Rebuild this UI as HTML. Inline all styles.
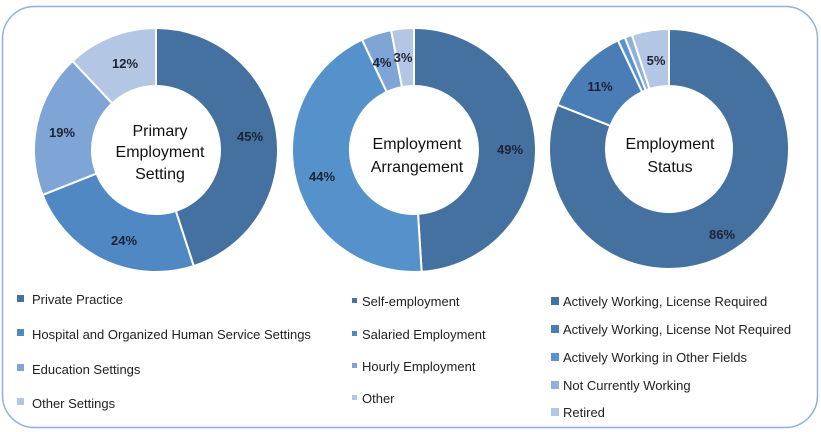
<!DOCTYPE html>
<html><head><meta charset="utf-8"><style>
html,body{margin:0;padding:0;background:#fff;}
svg{display:block;font-family:"Liberation Sans",sans-serif;}
.l{font-size:13px;font-weight:bold;fill:#1f2235;text-anchor:middle;}
.c{font-size:16px;fill:#111;text-anchor:middle;}
.g{font-size:13px;fill:#222;}
</style></head><body>
<svg id="s" width="821" height="432" viewBox="0 0 821 432">
<rect x="2.5" y="6.5" width="815" height="421" rx="32" fill="#fff" stroke="#8fb1d9" stroke-width="1.5"/>
<g id="d"></g>
<text class="l" x="250" y="141">45%</text>
<text class="l" x="124" y="245">24%</text>
<text class="l" x="62" y="137">19%</text>
<text class="l" x="125" y="68">12%</text>
<text class="c" x="160" y="136">Primary</text>
<text class="c" x="160" y="157">Employment</text>
<text class="c" x="160" y="179">Setting</text>
<text class="l" x="510" y="154">49%</text>
<text class="l" x="322" y="181">44%</text>
<text class="l" x="382" y="67">4%</text>
<text class="l" x="403" y="62">3%</text>
<text class="c" x="417" y="149">Employment</text>
<text class="c" x="417" y="172">Arrangement</text>
<text class="l" x="722" y="239">86%</text>
<text class="l" x="600" y="91">11%</text>
<text class="l" x="656" y="65">5%</text>
<text class="c" x="670" y="149">Employment</text>
<text class="c" x="670" y="172">Status</text>
<g class="g">
<rect x="17" y="295" width="7" height="7" fill="#44719f"/><text x="32" y="304">Private Practice</text>
<rect x="17" y="329" width="7" height="7" fill="#5088c4"/><text x="32" y="339">Hospital and Organized Human Service Settings</text>
<rect x="17" y="364" width="7" height="7" fill="#7ea5d6"/><text x="32" y="374">Education Settings</text>
<rect x="17" y="398" width="7" height="7" fill="#b3c7e5"/><text x="32" y="408">Other Settings</text>
<rect x="352" y="298" width="5" height="5" fill="#44719f"/><text x="362" y="306">Self-employment</text>
<rect x="352" y="331" width="5" height="5" fill="#5088c4"/><text x="362" y="339">Salaried Employment</text>
<rect x="352" y="363" width="5" height="5" fill="#7ea5d6"/><text x="362" y="371">Hourly Employment</text>
<rect x="352" y="395" width="5" height="5" fill="#b3c7e5"/><text x="362" y="403">Other</text>
<rect x="551" y="297" width="8" height="8" fill="#44719f"/><text x="563" y="306">Actively Working, License Required</text>
<rect x="551" y="325" width="8" height="8" fill="#4a7db5"/><text x="563" y="334">Actively Working, License Not Required</text>
<rect x="551" y="353" width="8" height="8" fill="#5a93d3"/><text x="563" y="362">Actively Working in Other Fields</text>
<rect x="551" y="381" width="8" height="8" fill="#8fb0db"/><text x="563" y="390">Not Currently Working</text>
<rect x="551" y="408" width="8" height="8" fill="#b3c7e5"/><text x="563" y="417">Retired</text>
</g>
</svg>
<script>
var g=document.getElementById('d');
function donut(cx,cy,R,r,vals,cols){
 var tot=vals.reduce(function(a,b){return a+b},0),a=0;
 for(var i=0;i<vals.length;i++){
  var a0=a/tot*2*Math.PI,a1=(a+vals[i])/tot*2*Math.PI;a+=vals[i];
  function p(rr,t){return (cx+rr*Math.sin(t)).toFixed(2)+' '+(cy-rr*Math.cos(t)).toFixed(2);}
  var lg=(a1-a0)>Math.PI?1:0;
  var d='M'+p(R,a0)+' A'+R+' '+R+' 0 '+lg+' 1 '+p(R,a1)+' L'+p(r,a1)+' A'+r+' '+r+' 0 '+lg+' 0 '+p(r,a0)+' Z';
  var e=document.createElementNS('http://www.w3.org/2000/svg','path');
  e.setAttribute('d',d);e.setAttribute('fill',cols[i]);e.setAttribute('stroke','#fff');e.setAttribute('stroke-width','2');
  g.appendChild(e);
 }
}
donut(156,150,122,64,[45,24,19,12],['#44719f','#5088c4','#7ea5d6','#b3c7e5']);
donut(414,150,122,64,[49,44,4,3],['#44719f','#5592cc','#7ea5d6','#b3c7e5']);
donut(669,149,120,63,[81,12,1,1,5],['#44719f','#4a7db5','#5a93d3','#8fb0db','#b3c7e5']);
</script>
</body></html>
